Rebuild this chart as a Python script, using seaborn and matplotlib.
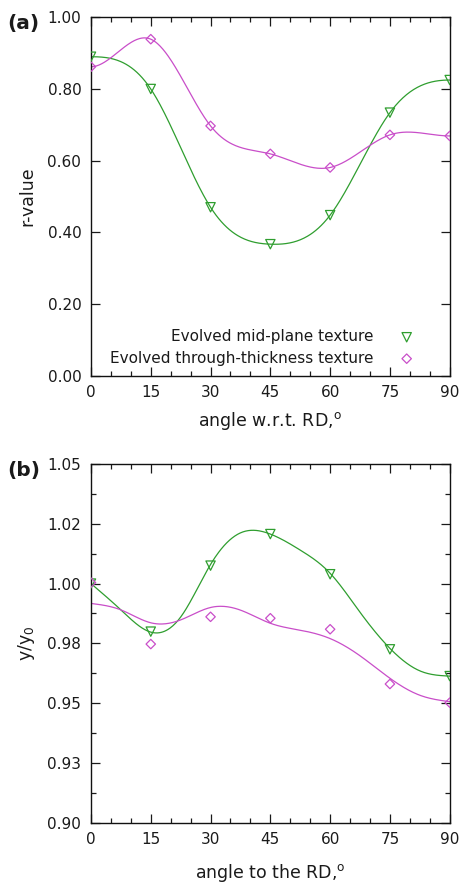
import numpy as np
import pandas as pd
import matplotlib
matplotlib.use("Agg")
import matplotlib.pyplot as plt
import seaborn as sns
from matplotlib.ticker import MultipleLocator, FixedLocator

# ---------------- data ----------------
angles = [0, 15, 30, 45, 60, 75, 90]
# panel (a): r-value
r_mid = [0.890, 0.800, 0.470, 0.367, 0.448, 0.734, 0.825]
r_thk = [0.862, 0.939, 0.697, 0.619, 0.581, 0.672, 0.669]
# panel (b): y/y0
ys_mid = [1.0000, 0.9799, 1.0075, 1.0207, 1.0039, 0.9725, 0.9613]
ys_thk = [1.0004, 0.9747, 0.9861, 0.9855, 0.9809, 0.9580, 0.9502]
# panel (b): fitted curves, read at knots
fit_angles = [0, 7.5, 15, 22.5, 30, 37.5, 45, 52.5, 60, 67.5, 75, 82.5, 90]
fit_ys_mid = [1.0000, 0.9890, 0.9797, 0.9860, 1.0080, 1.0212, 1.0207, 1.0140,
              1.0043, 0.9880, 0.9729, 0.9635, 0.9613]
fit_ys_thk = [0.9917, 0.9890, 0.9836, 0.9848, 0.9900, 0.9889, 0.9834, 0.9805,
              0.9770, 0.9698, 0.9604, 0.9533, 0.9506]

labels = ["Evolved mid-plane texture", "Evolved through-thickness texture"]
x_ticks = [0, 15, 30, 45, 60, 75, 90]
ya_ticks = [0.0, 0.2, 0.4, 0.6, 0.8, 1.0]
ya_ticklabels = ["0.00", "0.20", "0.40", "0.60", "0.80", "1.00"]
yb_ticks = [0.900, 0.925, 0.950, 0.975, 1.000, 1.025, 1.050]
yb_ticklabels = ["0.90", "0.93", "0.95", "0.98", "1.00", "1.02", "1.05"]

GREEN = "#2f9e2f"
MAGENTA = "#c94ec9"
TXT = "#1a1a1a"


def natural_spline(x, y, xs):
    x = np.asarray(x, float)
    y = np.asarray(y, float)
    n = len(x)
    h = np.diff(x)
    A = np.zeros((n, n))
    b = np.zeros(n)
    A[0, 0] = 1.0
    A[-1, -1] = 1.0
    for i in range(1, n - 1):
        A[i, i - 1] = h[i - 1]
        A[i, i] = 2 * (h[i - 1] + h[i])
        A[i, i + 1] = h[i]
        b[i] = 6 * ((y[i + 1] - y[i]) / h[i] - (y[i] - y[i - 1]) / h[i - 1])
    M = np.linalg.solve(A, b)
    idx = np.clip(np.searchsorted(x, xs) - 1, 0, n - 2)
    x0, x1 = x[idx], x[idx + 1]
    hh = x1 - x0
    t0 = x1 - xs
    t1 = xs - x0
    return (M[idx] * t0 ** 3 / (6 * hh) + M[idx + 1] * t1 ** 3 / (6 * hh)
            + (y[idx] / hh - M[idx] * hh / 6) * t0
            + (y[idx + 1] / hh - M[idx + 1] * hh / 6) * t1)


def clamped_spline(x, y, xs):
    """cubic spline with zero slope at both ends"""
    x = np.asarray(x, float)
    y = np.asarray(y, float)
    n = len(x)
    h = np.diff(x)
    d = np.diff(y) / h
    A = np.zeros((n, n))
    b = np.zeros(n)
    A[0, 0] = 1.0
    A[-1, -1] = 1.0
    for i in range(1, n - 1):
        A[i, i - 1] = 1 / h[i - 1]
        A[i, i] = 2 * (1 / h[i - 1] + 1 / h[i])
        A[i, i + 1] = 1 / h[i]
        b[i] = 3 * (d[i - 1] / h[i - 1] + d[i] / h[i])
    m = np.linalg.solve(A, b)
    idx = np.clip(np.searchsorted(x, xs) - 1, 0, n - 2)
    hh = h[idx]
    t = (xs - x[idx]) / hh
    h00 = 2 * t ** 3 - 3 * t ** 2 + 1
    h10 = t ** 3 - 2 * t ** 2 + t
    h01 = -2 * t ** 3 + 3 * t ** 2
    h11 = t ** 3 - t ** 2
    return (h00 * y[idx] + h10 * hh * m[idx] + h01 * y[idx + 1]
            + h11 * hh * m[idx + 1])


sns.set_theme(style="ticks")
plt.rcParams["font.family"] = ["DejaVu Sans"]
plt.rcParams["mathtext.fontset"] = "dejavusans"
plt.rcParams["text.color"] = TXT
plt.rcParams["axes.labelcolor"] = TXT
plt.rcParams["xtick.color"] = TXT
plt.rcParams["ytick.color"] = TXT

fig = plt.figure(figsize=(4.63, 8.83), dpi=100)
axA = fig.add_axes([0.1965, 0.5745, 0.7748, 0.4059])
axB = fig.add_axes([0.1965, 0.0683, 0.7748, 0.4062])

xs = np.linspace(0, 90, 400)


def style_axes(ax):
    for s in ax.spines.values():
        s.set_linewidth(1.0)
        s.set_color("#111111")
    ax.tick_params(which="both", direction="in", top=True, right=True,
                   labelsize=11, width=0.9)
    ax.tick_params(which="major", length=6.5)
    ax.tick_params(which="minor", length=3.5)
    ax.tick_params(axis="y", pad=7)
    ax.tick_params(axis="x", pad=7)
    ax.set_xlim(0, 90)
    ax.xaxis.set_major_locator(FixedLocator(x_ticks))
    ax.xaxis.set_minor_locator(MultipleLocator(5))
    ax.set_xticklabels([str(v) for v in x_ticks])


# ---------- panel (a) ----------
dfa = pd.DataFrame({"angle": angles, "mid": r_mid, "thk": r_thk})
sns.lineplot(x=xs, y=clamped_spline(angles, r_mid, xs), ax=axA, color=GREEN,
             lw=0.9, legend=False)
sns.lineplot(x=xs, y=clamped_spline(angles, r_thk, xs), ax=axA, color=MAGENTA,
             lw=0.9, legend=False)
sns.scatterplot(data=dfa, x="angle", y="mid", ax=axA, marker="v", s=45,
                facecolor="none", edgecolor=GREEN, linewidth=0.9,
                label=labels[0], zorder=5)
sns.scatterplot(data=dfa, x="angle", y="thk", ax=axA, marker="D", s=23,
                facecolor="none", edgecolor=MAGENTA, linewidth=0.9,
                label=labels[1], zorder=5)
style_axes(axA)
axA.set_ylim(0, 1.0)
axA.yaxis.set_major_locator(FixedLocator(ya_ticks))
axA.set_yticklabels(ya_ticklabels)
axA.set_xlabel("angle w.r.t. RD,$^{\\mathrm{o}}$", fontsize=12.5)
axA.set_ylabel("r-value", fontsize=12.5)
axA.xaxis.set_label_coords(0.5, -0.097)
axA.yaxis.set_label_coords(-0.151, 0.5)
axA.legend(loc="lower right", bbox_to_anchor=(0.912, 0.028), frameon=False,
           fontsize=11, markerfirst=False, handlelength=1.5,
           handletextpad=1.45, labelspacing=0.42, borderpad=0,
           borderaxespad=0)

# ---------- panel (b) ----------
dfb = pd.DataFrame({"angle": angles, "mid": ys_mid, "thk": ys_thk})
sns.lineplot(x=xs, y=natural_spline(fit_angles, fit_ys_mid, xs), ax=axB,
             color=GREEN, lw=0.9, legend=False)
sns.lineplot(x=xs, y=natural_spline(fit_angles, fit_ys_thk, xs), ax=axB,
             color=MAGENTA, lw=0.9, legend=False)
sns.scatterplot(data=dfb, x="angle", y="mid", ax=axB, marker="v", s=45,
                facecolor="none", edgecolor=GREEN, linewidth=0.9, zorder=5,
                legend=False)
sns.scatterplot(data=dfb, x="angle", y="thk", ax=axB, marker="D", s=23,
                facecolor="none", edgecolor=MAGENTA, linewidth=0.9, zorder=5,
                legend=False)
style_axes(axB)
axB.set_ylim(0.9, 1.05)
axB.yaxis.set_major_locator(FixedLocator(yb_ticks))
axB.yaxis.set_minor_locator(MultipleLocator(0.0125))
axB.set_yticklabels(yb_ticklabels)
axB.set_xlabel("angle to the RD,$^{\\mathrm{o}}$", fontsize=12.5)
axB.set_ylabel("y/y$_0$", fontsize=12.5)
axB.xaxis.set_label_coords(0.5, -0.11)
axB.yaxis.set_label_coords(-0.151, 0.5)

fig.text(0.0155, 0.973, "(a)", fontsize=14.5, fontweight="bold",
         ha="left", va="center")
fig.text(0.0155, 0.4677, "(b)", fontsize=14.5, fontweight="bold",
         ha="left", va="center")

fig.savefig("out.png", dpi=100, facecolor="white")
